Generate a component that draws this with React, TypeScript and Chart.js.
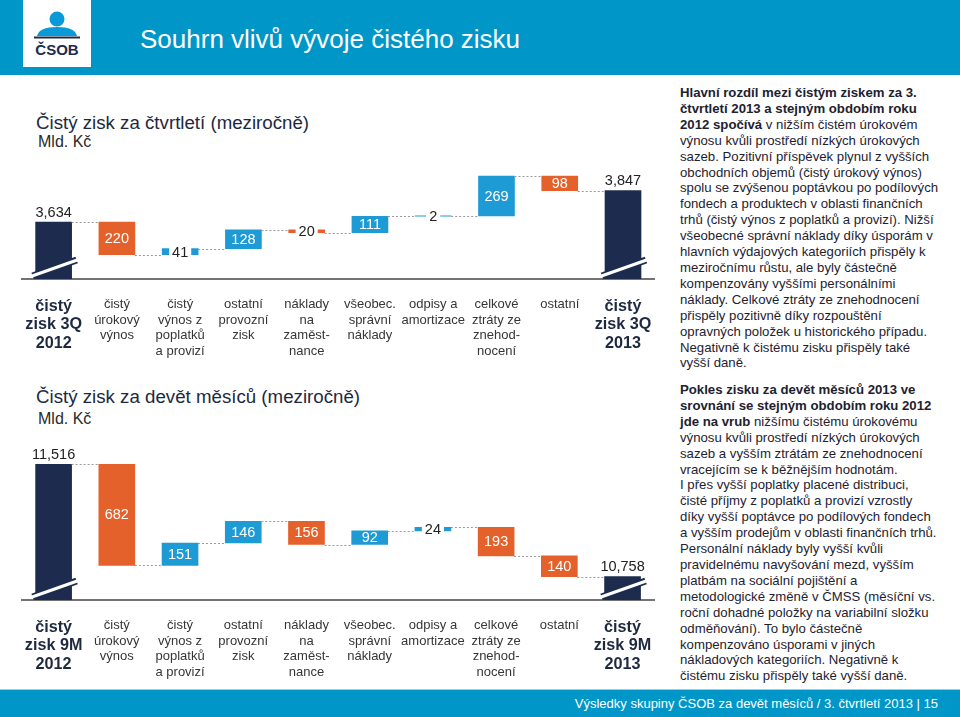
import React, { useEffect, useRef } from 'react';
import { Chart, registerables } from 'chart.js';

Chart.register(...registerables);

// ---------- DATA ----------
const q3Labels: string[][] = [
  ['čistý', 'zisk 3Q', '2012'],
  ['čistý', 'úrokový', 'výnos'],
  ['čistý', 'výnos z', 'poplatků', 'a provizí'],
  ['ostatní', 'provozní', 'zisk'],
  ['náklady', 'na', 'zaměst-', 'nance'],
  ['všeobec.', 'správní', 'náklady'],
  ['odpisy a', 'amortizace'],
  ['celkové', 'ztráty ze', 'znehod-', 'nocení'],
  ['ostatní'],
  ['čistý', 'zisk 3Q', '2013'],
];
const q3Start = 3634;
const q3Changes = [-220, 41, 128, -20, 111, 2, 269, -98];
const q3End = 3847;
const q3AxisMin = 3250;
const q3AxisMax = 4000;

const m9Labels: string[][] = [
  ['čistý', 'zisk 9M', '2012'],
  ['čistý', 'úrokový', 'výnos'],
  ['čistý', 'výnos z', 'poplatků', 'a provizí'],
  ['ostatní', 'provozní', 'zisk'],
  ['náklady', 'na', 'zaměst-', 'nance'],
  ['všeobec.', 'správní', 'náklady'],
  ['odpisy a', 'amortizace'],
  ['celkové', 'ztráty ze', 'znehod-', 'nocení'],
  ['ostatní'],
  ['čistý', 'zisk 9M', '2013'],
];
const m9Start = 11516;
const m9Changes = [-682, 151, 146, -156, 92, 24, -193, -140];
const m9End = 10758;
const m9AxisMin = 10600;
const m9AxisMax = 11600;

// ---------- STYLE ----------
const FONT = '"Liberation Sans", Arial, Helvetica, sans-serif';
const NAVY = '#1c2b4e';
const ORANGE = '#e5612b';
const BLUE = '#1e9bd5';
const HEADER_BLUE = '#0096c8';

type WProps = {
  labels: string[][];
  start: number;
  changes: number[];
  end: number;
  min: number;
  max: number;
  width: number;
  height: number;
  top: number;
  padTop: number;
};

function Waterfall(p: WProps) {
  const ref = useRef<HTMLCanvasElement | null>(null);
  useEffect(() => {
    if (!ref.current) return;
    const bars: [number, number][] = [];
    const colors: string[] = [];
    const kinds: string[] = [];
    const levels: number[] = [];
    let run = p.start;
    bars.push([p.min, p.start]);
    colors.push(NAVY);
    kinds.push('total');
    levels.push(run);
    p.changes.forEach((c) => {
      bars.push([run, run + c]);
      colors.push(c < 0 ? ORANGE : BLUE);
      kinds.push('change');
      run += c;
      levels.push(run);
    });
    bars.push([p.min, p.end]);
    colors.push(NAVY);
    kinds.push('total');
    levels.push(p.end);
    const values = [p.start, ...p.changes.map((c) => Math.abs(c)), p.end];
    const n = p.labels.length;

    const overlay = {
      id: 'overlay',
      afterDatasetsDraw(chart: any) {
        const ctx = chart.ctx;
        const meta = chart.getDatasetMeta(0);
        const ys = chart.scales.y;
        const axisY = chart.chartArea.bottom;
        ctx.save();
        // connectors
        ctx.strokeStyle = '#9a9a9a';
        ctx.lineWidth = 1;
        ctx.setLineDash([2, 2]);
        for (let i = 0; i < meta.data.length - 1; i++) {
          const a = meta.data[i];
          const b = meta.data[i + 1];
          const y = Math.round(ys.getPixelForValue(levels[i])) + 0.5;
          ctx.beginPath();
          ctx.moveTo(a.x + a.width / 2, y);
          ctx.lineTo(b.x - b.width / 2, y);
          ctx.stroke();
        }
        ctx.setLineDash([]);
        // breaks on totals
        meta.data.forEach((el: any, i: number) => {
          if (kinds[i] !== 'total') return;
          const L = el.x - el.width / 2;
          const R = el.x + el.width / 2;
          ctx.lineCap = 'butt';
          ctx.beginPath();
          ctx.moveTo(L - 3, axisY - 3);
          ctx.lineTo(R + 5, axisY - 19);
          ctx.strokeStyle = NAVY;
          ctx.lineWidth = 7;
          ctx.stroke();
          ctx.beginPath();
          ctx.moveTo(L - 5, axisY - 2.6);
          ctx.lineTo(R + 7, axisY - 19.4);
          ctx.strokeStyle = '#ffffff';
          ctx.lineWidth = 3.2;
          ctx.stroke();
        });
        // labels
        ctx.font = `14.5px ${FONT}`;
        ctx.textAlign = 'center';
        ctx.textBaseline = 'middle';
        meta.data.forEach((el: any, i: number) => {
          const top = Math.min(el.y, el.base);
          const bot = Math.max(el.y, el.base);
          const txt = values[i].toLocaleString('en-US');
          if (kinds[i] === 'total') {
            ctx.fillStyle = '#222222';
            ctx.fillText(txt, el.x, top - 9.5);
          } else if (bot - top >= 10) {
            ctx.fillStyle = '#ffffff';
            ctx.fillText(txt, el.x, (top + bot) / 2 + 0.5);
          } else {
            const w = ctx.measureText(txt).width + 6;
            const cy = (top + bot) / 2;
            ctx.fillStyle = '#ffffff';
            ctx.fillRect(el.x - w / 2, cy - 6, w, 12);
            ctx.fillStyle = '#222222';
            ctx.fillText(txt, el.x, cy + 1);
          }
        });
        ctx.restore();
      },
    };

    const chart = new Chart(ref.current, {
      type: 'bar',
      data: {
        labels: p.labels,
        datasets: [
          {
            data: bars as any,
            backgroundColor: colors,
            borderWidth: 0,
            barThickness: 36,
          },
        ],
      },
      options: {
        responsive: false,
        animation: false,
        layout: { padding: { left: 22, right: 13, top: p.padTop, bottom: 0 } },
        plugins: { legend: { display: false }, tooltip: { enabled: false } },
        scales: {
          x: {
            grid: { display: false, drawTicks: false },
            border: { display: true, color: '#737373', width: 2 },
            afterFit: (s: any) => {
              s.height = 86;
            },
            ticks: {
              autoSkip: false,
              maxRotation: 0,
              minRotation: 0,
              padding: 18,
              font: (c: any) =>
                c.index === 0 || c.index === n - 1
                  ? { family: FONT, size: 16.2, weight: 'bold', lineHeight: 1.15 }
                  : { family: FONT, size: 13, weight: 'normal', lineHeight: 1.19 },
              color: (c: any) => (c.index === 0 || c.index === n - 1 ? '#1d2940' : '#363636'),
            },
          } as any,
          y: { display: false, min: p.min, max: p.max },
        },
      },
      plugins: [overlay],
    });
    return () => chart.destroy();
  }, []);
  return (
    <canvas
      ref={ref}
      width={p.width}
      height={p.height}
      style={{ position: 'absolute', left: 0, top: p.top, width: p.width, height: p.height }}
    />
  );
}

const para1: [string, string][] = [
  ['Hlavní rozdíl mezi čistým ziskem za 3.', ''],
  ['čtvrtletí 2013 a stejným obdobím roku', ''],
  ['2012 spočívá', ' v nižším čistém úrokovém'],
  ['', 'výnosu kvůli prostředí nízkých úrokových'],
  ['', 'sazeb. Pozitivní příspěvek plynul z vyšších'],
  ['', 'obchodních objemů (čistý úrokový výnos)'],
  ['', 'spolu se zvýšenou poptávkou po podílových'],
  ['', 'fondech a produktech v oblasti finančních'],
  ['', 'trhů (čistý výnos z poplatků a provizí). Nižší'],
  ['', 'všeobecné správní náklady díky úsporám v'],
  ['', 'hlavních výdajových kategoriích přispěly k'],
  ['', 'meziročnímu růstu, ale byly částečně'],
  ['', 'kompenzovány vyššími personálními'],
  ['', 'náklady. Celkové ztráty ze znehodnocení'],
  ['', 'přispěly pozitivně díky rozpouštění'],
  ['', 'opravných položek u historického případu.'],
  ['', 'Negativně k čistému zisku přispěly také'],
  ['', 'vyšší daně.'],
];

const para2: [string, string][] = [
  ['Pokles zisku za devět měsíců 2013 ve', ''],
  ['srovnání se stejným obdobím roku 2012', ''],
  ['jde na vrub', ' nižšímu čistému úrokovému'],
  ['', 'výnosu kvůli prostředí nízkých úrokových'],
  ['', 'sazeb a vyšším ztrátám ze znehodnocení'],
  ['', 'vracejícím se k běžnějším hodnotám.'],
  ['', 'I přes vyšší poplatky placené distribuci,'],
  ['', 'čisté příjmy z poplatků a provizí vzrostly'],
  ['', 'díky vyšší poptávce po podílových fondech'],
  ['', 'a vyšším prodejům v oblasti finančních trhů.'],
  ['', 'Personální náklady byly vyšší kvůli'],
  ['', 'pravidelnému navyšování mezd, vyšším'],
  ['', 'platbám na sociální pojištění a'],
  ['', 'metodologické změně v ČMSS (měsíční vs.'],
  ['', 'roční dohadné položky na variabilní složku'],
  ['', 'odměňování). To bylo částečně'],
  ['', 'kompenzováno úsporami v jiných'],
  ['', 'nákladových kategoriích. Negativně k'],
  ['', 'čistému zisku přispěly také vyšší daně.'],
];

function Para({ lines, top }: { lines: [string, string][]; top: number }) {
  return (
    <div
      style={{
        position: 'absolute',
        left: 680,
        top,
        width: 280,
        fontFamily: FONT,
        fontSize: 13.2,
        lineHeight: '15.9px',
        color: '#1e2230',
        whiteSpace: 'nowrap',
      }}
    >
      {lines.map((l, i) => (
        <div key={i}>
          {l[0] && <b>{l[0]}</b>}
          {l[1]}
        </div>
      ))}
    </div>
  );
}

function Logo() {
  return (
    <div style={{ position: 'absolute', left: 23, top: 0, width: 68, height: 67, background: '#fff' }}>
      <svg width={68} height={67} viewBox="0 0 68 67">
        <circle cx={34} cy={19} r={7.5} fill="#0a9ad8" />
        <path d="M14 36 Q16 27 34 27 Q52 27 54 36 Z" fill="#0a9ad8" />
        <rect x={11} y={36.5} width={46} height={2} fill="#1c2b4e" />
        <text x={34} y={55} textAnchor="middle" fontFamily={FONT} fontWeight="bold" fontSize={15} fill="#1c2b4e">
          ČSOB
        </text>
      </svg>
    </div>
  );
}

export default function App() {
  return (
    <div
      style={{
        position: 'absolute',
        left: 0,
        top: 0,
        width: 960,
        height: 717,
        overflow: 'hidden',
        background: '#fff',
        fontFamily: FONT,
      }}
    >
      <div style={{ position: 'absolute', left: 0, top: 0, width: 960, height: 75, background: HEADER_BLUE }} />
      <Logo />
      <div
        style={{
          position: 'absolute',
          left: 140,
          top: 23,
          fontSize: 26,
          lineHeight: '32px',
          color: '#fff',
          whiteSpace: 'nowrap',
        }}
      >
        Souhrn vlivů vývoje čistého zisku
      </div>

      <div style={{ position: 'absolute', left: 36, top: 112, fontSize: 18.7, lineHeight: '22px', color: '#1d2940', whiteSpace: 'nowrap' }}>
        Čistý zisk za čtvrtletí (meziročně)
      </div>
      <div style={{ position: 'absolute', left: 38, top: 132, fontSize: 16, lineHeight: '20px', color: '#2a2a2a', whiteSpace: 'nowrap' }}>
        Mld. Kč
      </div>
      <Waterfall
        labels={q3Labels}
        start={q3Start}
        changes={q3Changes}
        end={q3End}
        min={q3AxisMin}
        max={q3AxisMax}
        width={670}
        height={215}
        top={150}
        padTop={18}
      />

      <div style={{ position: 'absolute', left: 36, top: 386, fontSize: 18.7, lineHeight: '22px', color: '#1d2940', whiteSpace: 'nowrap' }}>
        Čistý zisk za devět měsíců (meziročně)
      </div>
      <div style={{ position: 'absolute', left: 38, top: 409, fontSize: 16, lineHeight: '20px', color: '#2a2a2a', whiteSpace: 'nowrap' }}>
        Mld. Kč
      </div>
      <Waterfall
        labels={m9Labels}
        start={m9Start}
        changes={m9Changes}
        end={m9End}
        min={m9AxisMin}
        max={m9AxisMax}
        width={670}
        height={256}
        top={430}
        padTop={22}
      />

      <Para lines={para1} top={85} />
      <Para lines={para2} top={382} />

      <div
        style={{
          position: 'absolute',
          left: 0,
          top: 689,
          width: 960,
          height: 28,
          background: HEADER_BLUE,
          borderTop: '1px solid #8fd0ea',
          boxSizing: 'border-box',
        }}
      />
      <div
        style={{
          position: 'absolute',
          right: 22,
          top: 690,
          fontSize: 13,
          lineHeight: '27px',
          color: '#fff',
          whiteSpace: 'nowrap',
        }}
      >
        Výsledky skupiny ČSOB za devět měsíců / 3. čtvrtletí 2013 | 15
      </div>
    </div>
  );
}
